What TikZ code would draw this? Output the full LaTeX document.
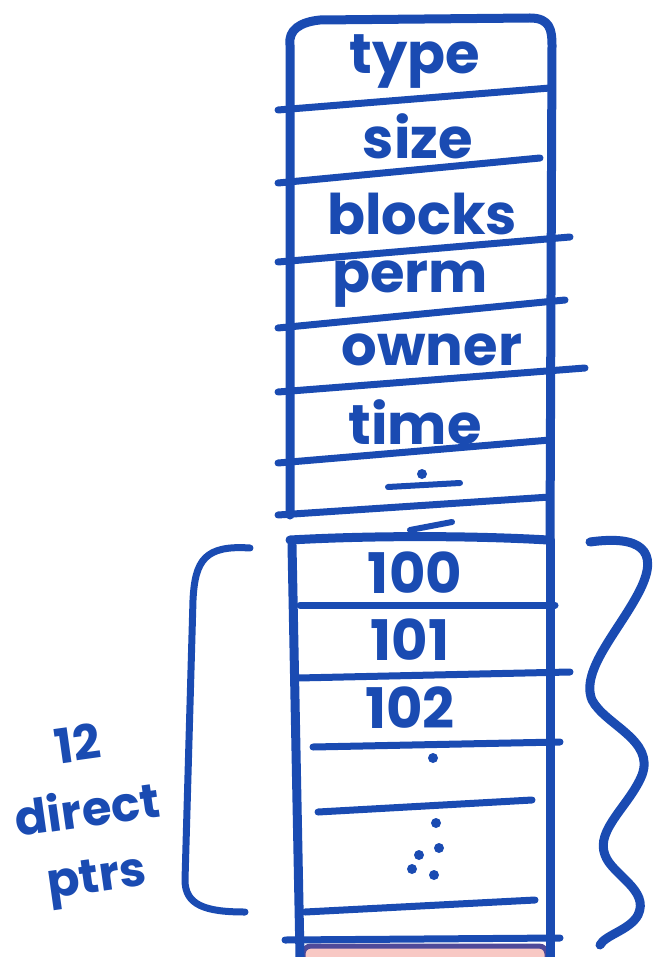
\documentclass[tikz,border=0pt]{standalone}
\usepackage{fontspec}
\setmainfont{Poppins}
\definecolor{penblue}{HTML}{1A4BB2}
\definecolor{padpink}{HTML}{F8C8C4}
\definecolor{padedge}{HTML}{4F4A9A}
\begin{document}
\begin{tikzpicture}[
x=1pt, y=-1pt,
pen/.style={draw=penblue, line width=7pt, line cap=round, line join=round},
rim/.style={pen, line width=9pt},
field/.style={text=penblue, font=\fontsize{56}{60}\selectfont\bfseries, inner sep=0pt},
note/.style={text=penblue, font=\fontsize{48}{66}\selectfont\bfseries, inner sep=0pt,
  rotate=8, align=center},
dot/.style={fill=penblue}
]
\useasboundingbox (0,0) rectangle (654,957);
% bottom of next block
\draw[fill=padpink, draw=padedge, line width=5pt, rounded corners=8pt] (303,946) rectangle (547,990);
% inode header box
\draw[rim] (290,515) -- (290,45) .. controls (288,30) and (300,22) .. (320,20)
  -- (530,18) .. controls (550,18) and (552,30) .. (552,45) -- (550,540);
\draw[rim] (290,540) .. controls (380,535) and (480,536) .. (548,540);
% lower part: pointers
\draw[rim] (292,545) -- (300,957);
\draw[rim] (550,540) -- (550,957);
\foreach \ya/\xb/\yb in {110/550/88, 183/540/158, 262/570/237, 328/565/300,
  392/585/368, 463/550/440, 515/550/497}
  \draw[pen] (278,\ya) -- (\xb,\yb);
\foreach \xa/\ya/\xb/\yb in {300/605/555/605, 298/678/570/672, 313/747/560/742,
  318/812/532/800, 305/912/535/900, 285/940/560/938}
  \draw[pen] (\xa,\ya) -- (\xb,\yb);
% fields
\node[field] (type) at (415,62) {type};
\node[field] (size) at (418,136) {size};
\node[field] (blocks) at (422,214) {blocks};
\node[field] (perm) at (410,284) {perm};
\node[field] (owner) at (432,350) {owner};
\node[field] (time) at (415,422) {time};
\draw[pen, line width=6pt] (388,487) -- (460,483);
\fill[dot] (422,474) circle (5pt);
\draw[pen, line width=6pt] (410,530) -- (452,522);
\node[field] (p100) at (415,573) {100};
\node[field] (p101) at (410,640) {101};
\node[field] (p102) at (410,708) {102};
\foreach \xd/\yd in {433/758, 436/823, 439/848, 419/855, 412/869, 434/875}
  \fill[dot] (\xd,\yd) circle (5pt);
% braces
\draw[pen] (250,548) .. controls (205,545) and (195,560) .. (193,600)
  -- (185,880) .. controls (185,905) and (205,912) .. (245,912);
\draw[pen, line width=9pt] (590,542) .. controls (640,535) and (660,550) .. (640,590)
  .. controls (620,630) and (580,670) .. (592,700)
  .. controls (605,725) and (655,740) .. (642,775)
  .. controls (630,805) and (595,830) .. (605,855)
  .. controls (612,875) and (650,890) .. (638,915)
  .. controls (630,930) and (605,935) .. (600,945);
\node[note] (count) at (88,815) {12\\direct\\ptrs};
\end{tikzpicture}
\end{document}
